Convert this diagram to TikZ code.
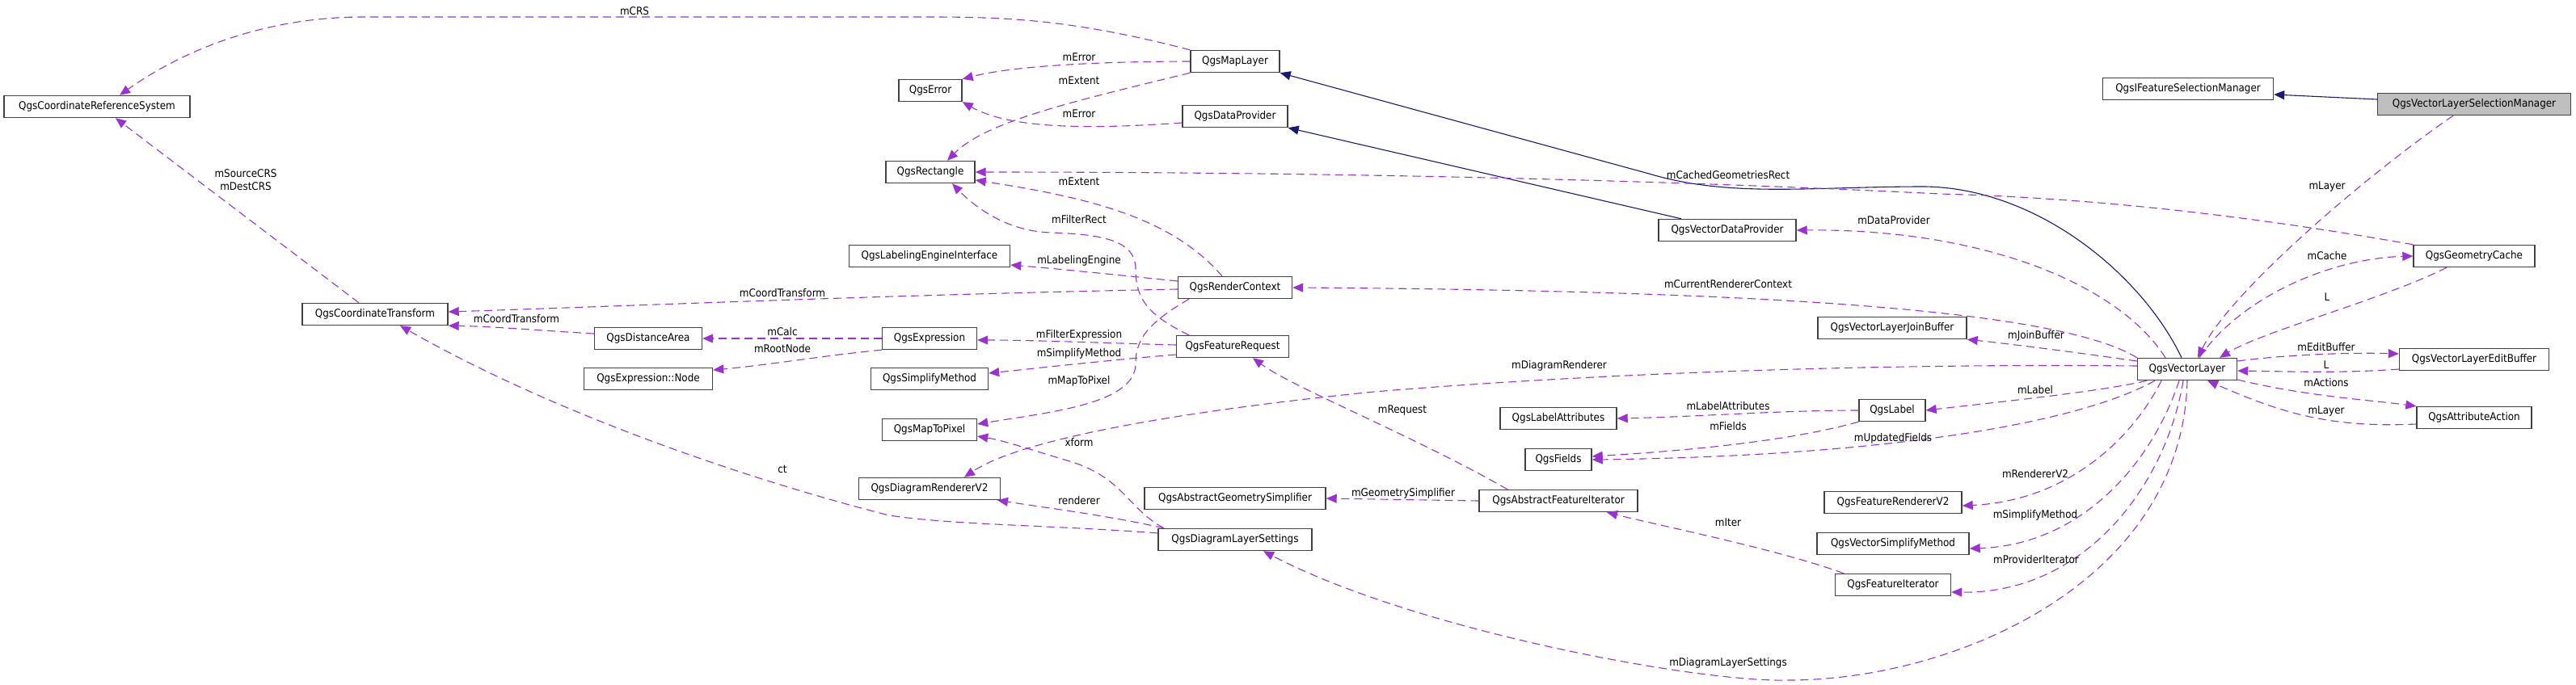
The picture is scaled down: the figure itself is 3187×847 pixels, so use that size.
\documentclass[tikz,border=0pt]{standalone}
\usepackage{fontspec}
\setmainfont{DejaVu Sans Condensed}
\usetikzlibrary{arrows.meta}
\definecolor{depc}{HTML}{9A32CD}
\definecolor{inhc}{HTML}{191970}
\definecolor{selc}{HTML}{BFBFBF}
\definecolor{boxc}{HTML}{404040}
\begin{document}
\begin{tikzpicture}[x=1pt,y=-1pt,
  cls/.style={draw=boxc, line width=1.4pt, fill=white, minimum height=27pt, inner sep=0pt, font=\fontsize{13.3}{16}\selectfont},
  lbl/.style={font=\fontsize{13.3}{16}\selectfont, inner sep=0pt},
  dep/.style={draw=depc, line width=1.1pt, dash pattern=on 10pt off 6pt, -{Triangle[length=13pt,width=11pt,fill=depc]}},
  inh/.style={draw=inhc, line width=1.1pt, -{Triangle[length=13pt,width=11pt,fill=inhc]}},
]
\useasboundingbox (0,0) rectangle (3187,847);

% classes
\node[cls, minimum width=230pt] (crs) at (120,132) {QgsCoordinateReferenceSystem};
\node[cls, minimum width=180pt] (ct) at (464,389) {QgsCoordinateTransform};
\node[cls, minimum width=110pt] (mapl) at (1528,76) {QgsMapLayer};
\node[cls, minimum width=78pt] (err) at (1151,112) {QgsError};
\node[cls, minimum width=130pt] (dp) at (1528,144) {QgsDataProvider};
\node[cls, minimum width=110pt] (rect) at (1151,213) {QgsRectangle};
\node[cls, minimum width=199pt] (lei) at (1150,317) {QgsLabelingEngineInterface};
\node[cls, minimum width=141pt] (rc) at (1528,356) {QgsRenderContext};
\node[cls, minimum width=133pt] (da) at (802,419) {QgsDistanceArea};
\node[cls, minimum width=117pt] (expr) at (1150,419) {QgsExpression};
\node[cls, minimum width=139pt] (fr) at (1525,429) {QgsFeatureRequest};
\node[cls, minimum width=159pt] (enode) at (802,469) {QgsExpression::Node};
\node[cls, minimum width=145pt] (sm) at (1150,469) {QgsSimplifyMethod};
\node[cls, minimum width=117pt] (m2p) at (1150,532) {QgsMapToPixel};
\node[cls, minimum width=175pt] (drv2) at (1150,605) {QgsDiagramRendererV2};
\node[cls, minimum width=224pt] (ags) at (1528,617) {QgsAbstractGeometrySimplifier};
\node[cls, minimum width=190pt] (dls) at (1528,668) {QgsDiagramLayerSettings};
\node[cls, minimum width=170pt] (vdp) at (2137,285) {QgsVectorDataProvider};
\node[cls, minimum width=184pt] (vljb) at (2341,406) {QgsVectorLayerJoinBuffer};
\node[cls, minimum width=144pt] (la) at (1928,518) {QgsLabelAttributes};
\node[cls, minimum width=82pt] (lab) at (2341,508) {QgsLabel};
\node[cls, minimum width=82pt] (flds) at (1928,569) {QgsFields};
\node[cls, minimum width=196pt] (afi) at (1928,620) {QgsAbstractFeatureIterator};
\node[cls, minimum width=170pt] (frv2) at (2342,622) {QgsFeatureRendererV2};
\node[cls, minimum width=188pt] (vsm) at (2342,673) {QgsVectorSimplifyMethod};
\node[cls, minimum width=143pt] (fi) at (2342,724) {QgsFeatureIterator};
\node[cls, minimum width=211pt] (ifsm) at (2707,110) {QgsIFeatureSelectionManager};
\node[cls, minimum width=239pt, fill=selc] (vlsm) at (3061,129) {QgsVectorLayerSelectionManager};
\node[cls, minimum width=150pt] (gc) at (3061,317) {QgsGeometryCache};
\node[cls, minimum width=123pt] (vl) at (2706,457) {QgsVectorLayer};
\node[cls, minimum width=185pt] (vleb) at (3061,445) {QgsVectorLayerEditBuffer};
\node[cls, minimum width=142pt] (aa) at (3061,517) {QgsAttributeAction};

% inheritance
\draw[inh] ([xshift=-7pt]vl.north) .. controls (2650,340) and (2520,232) .. (2380,231)
  .. controls (2240,231) and (2140,245) .. (2040,215) -- (mapl.south east);
\draw[inh] ([xshift=-57pt]vdp.north) -- (dp.south east);
\draw[inh] ([yshift=6pt]vlsm.west) -- ([yshift=-7pt]ifsm.east);

% usage
\draw[dep] (mapl.north west) .. controls (1330,25) and (1250,21) .. (1150,21) -- (450,21)
  .. controls (330,21) and (230,60) .. ([xshift=28pt]crs.north);
\draw[dep] (mapl.west) .. controls (1380,76) and (1260,80) .. (err.north east);
\draw[dep] (mapl.south west) .. controls (1330,125) and (1220,150) .. ([xshift=21pt]rect.north);
\draw[dep] ([yshift=-8pt]dp.west) .. controls (1350,160) and (1250,160) .. (err.south east);
\draw[dep] ([xshift=-26pt]vlsm.south) .. controls (2930,215) and (2760,360) .. ([xshift=13pt]vl.north);
\draw[dep] (gc.north west) .. controls (2800,270) and (2600,245) .. (2400,240)
  .. controls (2100,225) and (1700,213) .. (rect.east);
\draw[dep] ([xshift=15pt]vl.north) .. controls (2770,370) and (2880,320) .. (gc.west);
\draw[dep] ([xshift=-34pt]gc.south) .. controls (2950,370) and (2800,410) .. ([xshift=40pt]vl.north);
\draw[dep] ([xshift=-27pt]vl.north) .. controls (2620,350) and (2450,283) .. (vdp.east);
\draw[dep] (vl.north west) .. controls (2550,385) and (2200,360) .. (rc.east);
\draw[dep] ([yshift=10pt]vl.west) .. controls (2560,435) and (2480,425) .. (vljb.south east);
\draw[dep] ([yshift=4pt]vl.west) .. controls (2350,450) and (2000,460) .. (1700,485)
  .. controls (1450,510) and (1260,545) .. ([xshift=43pt]drv2.north);
\draw[dep] ([xshift=-50pt]vl.south) .. controls (2600,485) and (2450,500) .. (lab.east);
\draw[dep] ([xshift=-40pt]vl.south) .. controls (2560,530) and (2300,565) .. (flds.east);
\draw[dep] (lab.west) .. controls (2200,508) and (2100,516) .. (la.east);
\draw[dep] (lab.south west) .. controls (2200,550) and (2050,560) .. ([yshift=4pt]flds.east);
\draw[dep] ([xshift=-32pt]vl.south) .. controls (2640,540) and (2560,620) .. ([yshift=-4pt]frv2.east);
\draw[dep] ([xshift=-10pt]vl.south) .. controls (2660,580) and (2570,675) .. ([yshift=-6pt]vsm.east);
\draw[dep] ([xshift=-5pt]vl.south) .. controls (2680,600) and (2580,735) .. ([yshift=-9pt]fi.east);
\draw[dep] (vl.south) .. controls (2700,720) and (2420,842) .. (2212,842)
  .. controls (2100,845) and (1750,780) .. ([xshift=35pt]dls.south);
\draw[dep] ([yshift=10pt]vl.east) .. controls (2820,440) and (2900,436) .. ([yshift=7pt]vleb.west);
\draw[dep] ([yshift=-12pt]vleb.west) .. controls (2900,462) and (2840,460) .. ([yshift=-2pt]vl.east);
\draw[dep] ([yshift=-13pt]vl.east) .. controls (2850,490) and (2930,495) .. (aa.north west);
\draw[dep] ([yshift=-8pt]aa.west) .. controls (2880,530) and (2820,510) .. ([xshift=25pt]vl.south);
\draw[dep] ([xshift=-16pt]rc.north) .. controls (1450,270) and (1350,245) .. ([yshift=-10pt]rect.east);
\draw[dep] ([yshift=8pt]rc.west) .. controls (1380,340) and (1300,332) .. ([yshift=-11pt]lei.east);
\draw[dep] ([yshift=-2pt]rc.west) .. controls (1100,365) and (800,378) .. ([yshift=3pt]ct.east);
\draw[dep] ([xshift=-57pt]rc.south) .. controls (1420,400) and (1405,420) .. (1405,450)
  .. controls (1405,500) and (1300,510) .. ([yshift=7pt]m2p.east);
\draw[dep] ([xshift=-54pt]fr.north) .. controls (1420,390) and (1405,370) .. (1405,333)
  .. controls (1405,300) and (1370,290) .. (1300,288)
  .. controls (1240,286) and (1200,250) .. ([xshift=27pt]rect.south);
\draw[dep] ([yshift=2pt]fr.west) .. controls (1380,425) and (1280,421) .. ([yshift=-2pt]expr.east);
\draw[dep] ([yshift=-10pt]fr.west) .. controls (1380,445) and (1290,455) .. ([yshift=7pt]sm.east);
\draw[dep] (expr.west) -- (da.east);
\draw[dep] (expr.south west) .. controls (1020,440) and (950,452) .. ([yshift=11pt]enode.east);
\draw[dep] ([yshift=6pt]da.west) .. controls (680,410) and (610,404) .. (ct.south east);
\draw[dep] ([xshift=-20pt]ct.north) -- ([xshift=23pt]crs.south);
\draw[dep] ([yshift=8pt]dls.west) .. controls (1300,650) and (1180,650) .. (1100,638)
  .. controls (950,600) and (700,520) .. ([xshift=31pt]ct.south);
\draw[dep] ([xshift=-88pt]dls.north) .. controls (1370,638) and (1290,628) .. ([xshift=84pt]drv2.south);
\draw[dep] ([xshift=-88pt]dls.north) .. controls (1395,630) and (1390,590) .. (1320,570)
  .. controls (1270,555) and (1240,545) .. ([yshift=-8pt]m2p.east);
\draw[dep] (afi.west) -- (ags.east);
\draw[dep] ([xshift=-63pt]afi.north) .. controls (1750,540) and (1600,480) .. ([xshift=25pt]fr.south);
\draw[dep] ([xshift=-61pt]fi.north) .. controls (2200,680) and (2050,650) .. ([xshift=60pt]afi.south);

% labels
\node[lbl] (l1) at (785,14) {mCRS};
\node[lbl] (l2) at (1335,71) {mError};
\node[lbl] (l3) at (1335,100) {mExtent};
\node[lbl] (l4) at (1335,141) {mError};
\node[lbl] (l5) at (2138,217) {mCachedGeometriesRect};
\node[lbl] (l6) at (1335,225) {mExtent};
\node[lbl] (l7) at (2879,231) {mLayer};
\node[lbl] (l8) at (1335,272) {mFilterRect};
\node[lbl] (l9) at (2343,273) {mDataProvider};
\node[lbl] (l10) at (2879,317) {mCache};
\node[lbl] (l11) at (1335,323) {mLabelingEngine};
\node[lbl] (l12) at (2138,352) {mCurrentRendererContext};
\node[lbl] (l13) at (968,363) {mCoordTransform};
\node[lbl] (l14) at (2879,368) {L};
\node[lbl] (l15) at (639,395) {mCoordTransform};
\node[lbl] (l16) at (968,411) {mCalc};
\node[lbl] (l17) at (1335,415) {mFilterExpression};
\node[lbl] (l18) at (2519,416) {mJoinBuffer};
\node[lbl] (l19) at (2878,430) {mEditBuffer};
\node[lbl] (l20) at (968,432) {mRootNode};
\node[lbl] (l21) at (1335,438) {mSimplifyMethod};
\node[lbl] (l22) at (2878,452) {L};
\node[lbl] (l23) at (1929,453) {mDiagramRenderer};
\node[lbl] (l24) at (1335,472) {mMapToPixel};
\node[lbl] (l25) at (2878,474) {mActions};
\node[lbl] (l26) at (2518,483) {mLabel};
\node[lbl] (l27) at (2138,503) {mLabelAttributes};
\node[lbl] (l28) at (1735,508) {mRequest};
\node[lbl] (l29) at (2878,509) {mLayer};
\node[lbl] (l30) at (2138,528) {mFields};
\node[lbl] (l31) at (2342,543) {mUpdatedFields};
\node[lbl] (l32) at (1335,548) {xform};
\node[lbl] (l33) at (968,581) {ct};
\node[lbl] (l34) at (2518,587) {mRendererV2};
\node[lbl] (l35) at (1736,611) {mGeometrySimplifier};
\node[lbl] (l36) at (1335,620) {renderer};
\node[lbl] (l37) at (2518,638) {mSimplifyMethod};
\node[lbl] (l38) at (2138,647) {mIter};
\node[lbl] (l39) at (2519,693) {mProviderIterator};
\node[lbl] (l40) at (2138,821) {mDiagramLayerSettings};
\node[lbl, align=center] (l41) at (304,223) {mSourceCRS\\mDestCRS};
\end{tikzpicture}
\end{document}
